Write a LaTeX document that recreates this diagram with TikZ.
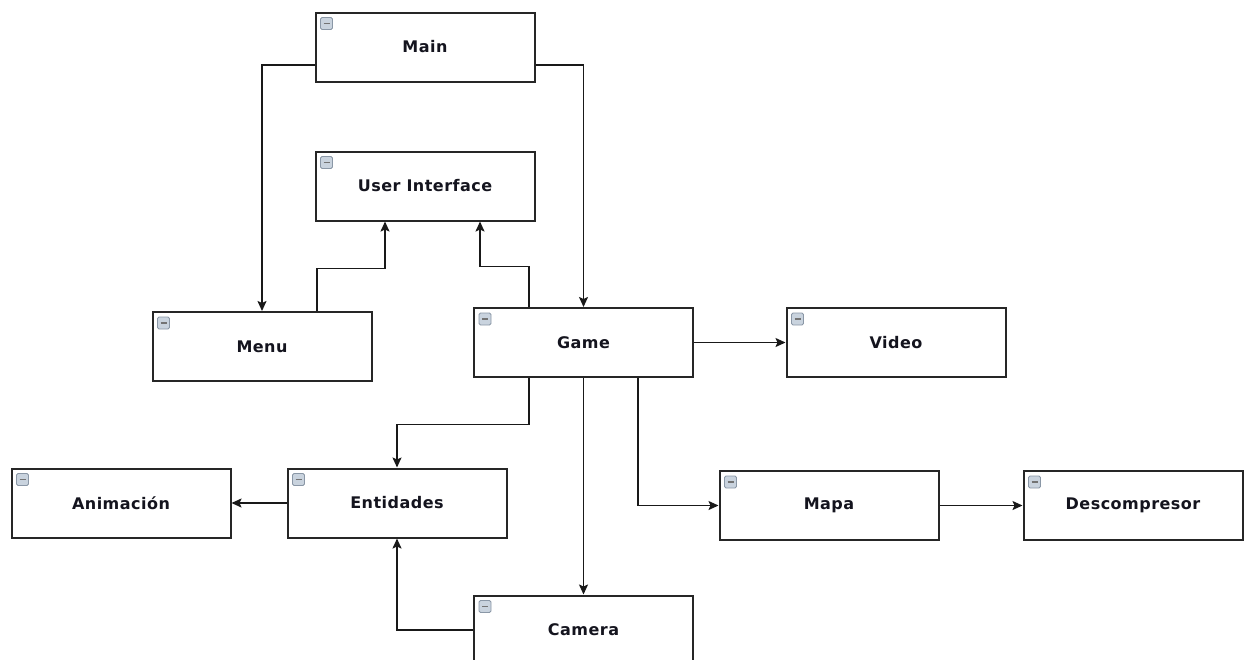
\documentclass[tikz,border=0pt]{standalone}
\usepackage{fontspec}
\setmainfont{DejaVu Sans}
\newfontfamily\boxfont[LetterSpace=3]{DejaVu Sans}
\usetikzlibrary{arrows.meta,calc}
\definecolor{iconfill}{HTML}{C9D3DE}
\definecolor{iconline}{HTML}{8A97A6}
\definecolor{txt}{HTML}{14141E}
\tikzset{
  box/.style={draw=black!85, line width=2pt, fill=white, minimum width=219pt, minimum height=69pt,
    inner sep=0pt, font=\boxfont\fontsize{16}{19}\selectfont\bfseries, text=txt,
    path picture={
      \draw[iconline, fill=iconfill, line width=0.8pt, rounded corners=1.5pt]
        ([shift={(5pt,-5pt)}]path picture bounding box.north west) rectangle ++(12pt,-12pt);
      \draw[black!55, line width=1.6pt]
        ([shift={(8pt,-11pt)}]path picture bounding box.north west) -- ++(6pt,0);
    }},
  conn/.style={line width=1.6pt, black!90},
  arr/.style={conn, -{Stealth[length=10pt,width=9pt,inset=2pt]}}
}
\begin{document}
\begin{tikzpicture}[x=1pt,y=-1pt]
\useasboundingbox (0,0) rectangle (1246,659);
\node[box] (main) at (425,47) {Main};
\node[box] (ui) at (425,186) {User Interface};
\node[box] (menu) at (262,346.5) {Menu};
\node[box] (game) at (583.5,342.5) {Game};
\node[box] (video) at (896,342.5) {Video};
\node[box] (anim) at (121,503) {Animación};
\node[box] (ent) at (397,503) {Entidades};
\node[box] (mapa) at (829,505.5) {Mapa};
\node[box] (desc) at (1133,505.5) {Descompresor};
\node[box] (cam) at (583.5,630) {Camera};

\draw[arr] ([yshift=-18pt]main.west) -| (menu.north);
\draw[arr] ([yshift=-18pt]main.east) -| (game.north);
\draw[arr] ([xshift=55pt]menu.north) |- ([xshift=-40pt,yshift=-47pt]ui.south) -- ([xshift=-40pt]ui.south);
\draw[arr] ([xshift=-54.5pt]game.north) |- ([xshift=55pt,yshift=-45pt]ui.south) -- ([xshift=55pt]ui.south);
\draw[arr] (game.east) -- (video.west);
\draw[arr] ([xshift=-54.5pt]game.south) |- ([yshift=43pt]ent.north) -- (ent.north);
\draw[arr] (game.south) -- (cam.north);
\draw[arr] ([xshift=54.5pt]game.south) |- (mapa.west);
\draw[arr] (mapa.east) -- (desc.west);
\draw[arr] (ent.west) -- (anim.east);
\draw[arr] (cam.west) -| (ent.south);
\end{tikzpicture}
\end{document}
